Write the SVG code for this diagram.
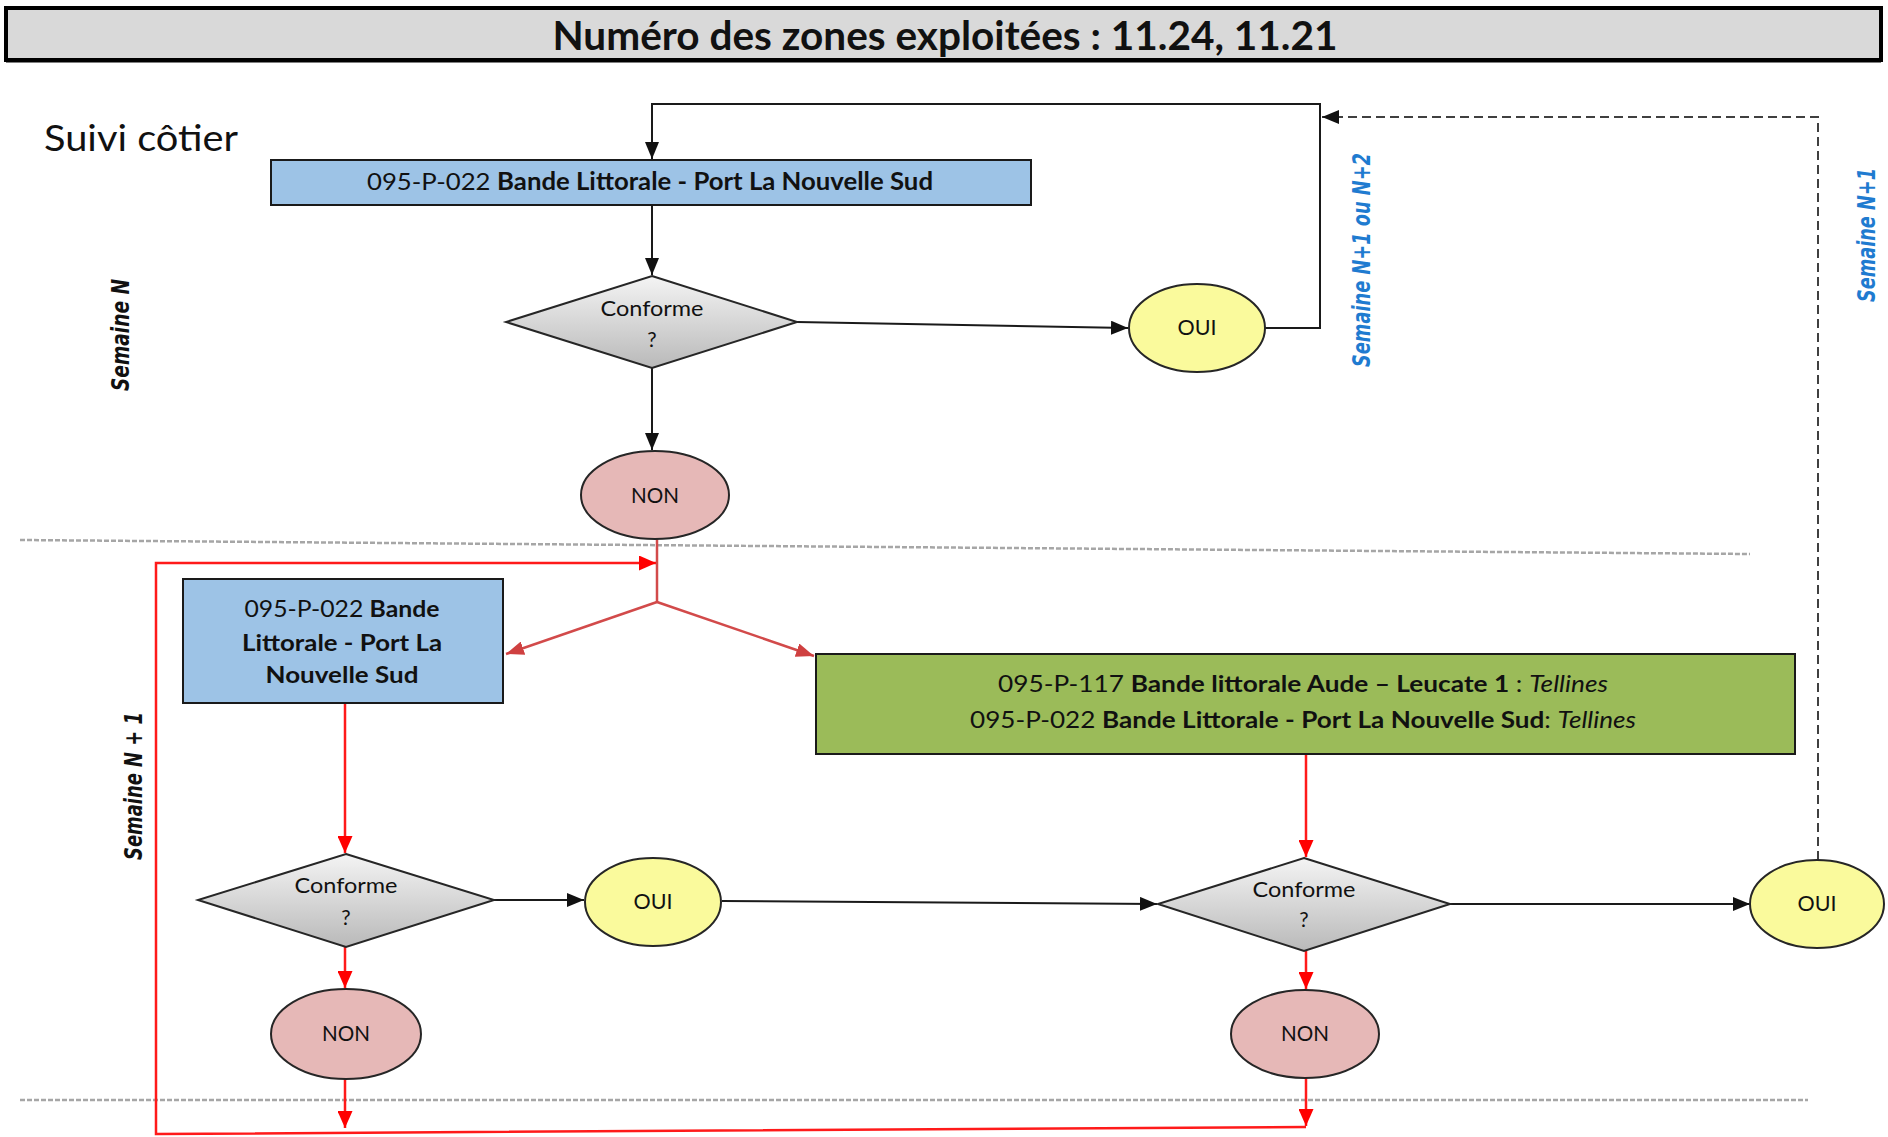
<svg xmlns="http://www.w3.org/2000/svg" width="1888" height="1137" viewBox="0 0 1888 1137">
<style>
.lbl{font-family:Lato,"Liberation Sans",sans-serif;fill:#111;}
.b{font-weight:bold;}
.n{font-weight:normal;}
.it{font-style:italic;}
.sem{font-family:"DejaVu Sans",Verdana,sans-serif;font-weight:bold;font-style:oblique;}
.box{stroke:#1a1a1a;stroke-width:2;}
.blue{fill:#9dc3e6;}
.green{fill:#9bbb59;}
.dia{fill:url(#gDia);stroke:#262626;stroke-width:2;}
.oui{fill:#fafa9c;stroke:#262626;stroke-width:2;}
.non{fill:#e6b8b7;stroke:#262626;stroke-width:2;}
.ck{fill:none;stroke:#1a1a1a;stroke-width:2;}
.cr{fill:none;stroke:#ff1a1a;stroke-width:2.5;}
.cm{fill:none;stroke:#d24a4a;stroke-width:2.5;}
.dash{fill:none;stroke:#404040;stroke-width:2;stroke-dasharray:9 5;}
.sep{fill:none;stroke:#a6a6a6;stroke-width:2.5;stroke-dasharray:5 2;}
</style>
<defs>
<linearGradient id="gDia" x1="0" y1="0" x2="0" y2="1">
<stop offset="0" stop-color="#f4f4f4"/>
<stop offset="1" stop-color="#b9b9b9"/>
</linearGradient>
<marker id="ak" viewBox="0 0 17 14" refX="17" refY="7" markerWidth="17" markerHeight="14" markerUnits="userSpaceOnUse" orient="auto">
<path d="M0,0 L17,7 L0,14 z" fill="#111"/>
</marker>
<marker id="ar" viewBox="0 0 17 15" refX="17" refY="7.5" markerWidth="17" markerHeight="15" markerUnits="userSpaceOnUse" orient="auto">
<path d="M0,0 L17,7.5 L0,15 z" fill="#ff0000"/>
</marker>
<marker id="am" viewBox="0 0 18 14" refX="18" refY="7" markerWidth="18" markerHeight="14" markerUnits="userSpaceOnUse" orient="auto">
<path d="M0,0 L18,7 L0,14 z" fill="#cf4040"/>
</marker>
</defs>

<g id="title">
<rect x="6" y="8" width="1875" height="52" fill="#d9d9d9" stroke="#000" stroke-width="4"/>
<line x1="6" y1="61" x2="1881" y2="61" stroke="#000" stroke-width="3"/>
<text class="lbl b" x="945" y="50" text-anchor="middle" font-size="40" textLength="785" lengthAdjust="spacingAndGlyphs">Numéro des zones exploitées : 11.24, 11.21</text>
</g>

<g id="suivi-cotier">
<text class="lbl" x="44" y="151" font-size="36" textLength="194" lengthAdjust="spacingAndGlyphs">Suivi côtier</text>
</g>

<g id="separators">
<line class="sep" x1="20" y1="540" x2="1750" y2="554"/>
<line class="sep" x1="20" y1="1100" x2="1808" y2="1100"/>
</g>

<g id="week-labels">
<text class="sem" transform="translate(129,335) rotate(-90)" text-anchor="middle" font-size="24" fill="#111" textLength="112" lengthAdjust="spacingAndGlyphs">Semaine N</text>
<text class="sem" transform="translate(142,786) rotate(-90)" text-anchor="middle" font-size="24" fill="#111" textLength="148" lengthAdjust="spacingAndGlyphs">Semaine N + 1</text>
<text class="sem" transform="translate(1370,260) rotate(-90)" text-anchor="middle" font-size="24" fill="#1f7bd0" textLength="214" lengthAdjust="spacingAndGlyphs">Semaine N+1 ou N+2</text>
<text class="sem" transform="translate(1875,235) rotate(-90)" text-anchor="middle" font-size="24" fill="#1f7bd0" textLength="134" lengthAdjust="spacingAndGlyphs">Semaine N+1</text>
</g>

<g id="connectors">
<path class="ck" d="M1265,328 H1320 V104 H652 V159" marker-end="url(#ak)"/>
<path class="dash" d="M1818,860 V117 H1322" marker-end="url(#ak)"/>
<path class="ck" d="M652,205 V275" marker-end="url(#ak)"/>
<path class="ck" d="M797,322 L1128,328" marker-end="url(#ak)"/>
<path class="ck" d="M652,368 V450" marker-end="url(#ak)"/>
<path class="cm" d="M657,539 V602"/>
<path class="cm" d="M657,602 L506,654" marker-end="url(#am)"/>
<path class="cm" d="M657,602 L814,656" marker-end="url(#am)"/>
<path class="cr" d="M1306,1127 L156,1134 V563 H656" marker-end="url(#ar)"/>
<path class="cr" d="M345,704 V853" marker-end="url(#ar)"/>
<path class="ck" d="M494,900 H584" marker-end="url(#ak)"/>
<path class="cr" d="M345,947 V988" marker-end="url(#ar)"/>
<path class="cr" d="M345,1079 V1128" marker-end="url(#ar)"/>
<path class="ck" d="M722,901 L1157,904" marker-end="url(#ak)"/>
<path class="cr" d="M1306,754 V857" marker-end="url(#ar)"/>
<path class="ck" d="M1450,904 H1750" marker-end="url(#ak)"/>
<path class="cr" d="M1306,951 V989" marker-end="url(#ar)"/>
<path class="cr" d="M1306,1078 V1126" marker-end="url(#ar)"/>
</g>

<g id="box-top">
<rect class="box blue" x="271" y="160" width="760" height="45"/>
<text class="lbl" x="650" y="190" text-anchor="middle" font-size="24" textLength="566" lengthAdjust="spacingAndGlyphs"><tspan class="n">095-P-022 </tspan><tspan class="b">Bande Littorale - Port La Nouvelle Sud</tspan></text>
</g>

<g id="decision-top">
<polygon class="dia" points="652,276 797,322 652,368 506,322"/>
<text class="lbl" x="652" y="316" text-anchor="middle" font-size="21" textLength="103" lengthAdjust="spacingAndGlyphs">Conforme</text>
<text class="lbl" x="652" y="347" text-anchor="middle" font-size="21">?</text>
</g>

<g id="oui-top">
<ellipse class="oui" cx="1197" cy="328" rx="68" ry="44"/>
<text class="lbl" x="1197" y="335" text-anchor="middle" font-size="21" textLength="39" lengthAdjust="spacingAndGlyphs">OUI</text>
</g>

<g id="non-top">
<ellipse class="non" cx="655" cy="495" rx="74" ry="44"/>
<text class="lbl" x="655" y="503" text-anchor="middle" font-size="22" textLength="48" lengthAdjust="spacingAndGlyphs">NON</text>
</g>

<g id="box-left">
<rect class="box blue" x="183" y="579" width="320" height="124"/>
<text class="lbl" x="342" y="617" text-anchor="middle" font-size="23" textLength="195" lengthAdjust="spacingAndGlyphs"><tspan class="n">095-P-022 </tspan><tspan class="b">Bande</tspan></text>
<text class="lbl b" x="342" y="651" text-anchor="middle" font-size="23" textLength="200" lengthAdjust="spacingAndGlyphs">Littorale - Port La</text>
<text class="lbl b" x="342" y="683" text-anchor="middle" font-size="23" textLength="153" lengthAdjust="spacingAndGlyphs">Nouvelle Sud</text>
</g>

<g id="box-green">
<rect class="box green" x="816" y="654" width="979" height="100"/>
<text class="lbl" x="1303" y="692" text-anchor="middle" font-size="23" textLength="610" lengthAdjust="spacingAndGlyphs"><tspan class="n">095-P-117 </tspan><tspan class="b">Bande littorale Aude – Leucate 1</tspan><tspan class="n"> : </tspan><tspan class="n it">Tellines</tspan></text>
<text class="lbl" x="1303" y="728" text-anchor="middle" font-size="23" textLength="666" lengthAdjust="spacingAndGlyphs"><tspan class="n">095-P-022 </tspan><tspan class="b">Bande Littorale - Port La Nouvelle Sud</tspan><tspan class="n">: </tspan><tspan class="n it">Tellines</tspan></text>
</g>

<g id="decision-left">
<polygon class="dia" points="346,854 494,900 346,947 198,900"/>
<text class="lbl" x="346" y="893" text-anchor="middle" font-size="21" textLength="103" lengthAdjust="spacingAndGlyphs">Conforme</text>
<text class="lbl" x="346" y="925" text-anchor="middle" font-size="21">?</text>
</g>

<g id="oui-left">
<ellipse class="oui" cx="653" cy="902" rx="68" ry="44"/>
<text class="lbl" x="653" y="909" text-anchor="middle" font-size="21" textLength="39" lengthAdjust="spacingAndGlyphs">OUI</text>
</g>

<g id="non-left">
<ellipse class="non" cx="346" cy="1034" rx="75" ry="45"/>
<text class="lbl" x="346" y="1041" text-anchor="middle" font-size="22" textLength="48" lengthAdjust="spacingAndGlyphs">NON</text>
</g>

<g id="decision-right">
<polygon class="dia" points="1304,858 1450,904 1304,951 1158,904"/>
<text class="lbl" x="1304" y="897" text-anchor="middle" font-size="21" textLength="103" lengthAdjust="spacingAndGlyphs">Conforme</text>
<text class="lbl" x="1304" y="927" text-anchor="middle" font-size="21">?</text>
</g>

<g id="oui-right">
<ellipse class="oui" cx="1817" cy="904" rx="67" ry="44"/>
<text class="lbl" x="1817" y="911" text-anchor="middle" font-size="21" textLength="39" lengthAdjust="spacingAndGlyphs">OUI</text>
</g>

<g id="non-right">
<ellipse class="non" cx="1305" cy="1034" rx="74" ry="44"/>
<text class="lbl" x="1305" y="1041" text-anchor="middle" font-size="22" textLength="48" lengthAdjust="spacingAndGlyphs">NON</text>
</g>
</svg>
